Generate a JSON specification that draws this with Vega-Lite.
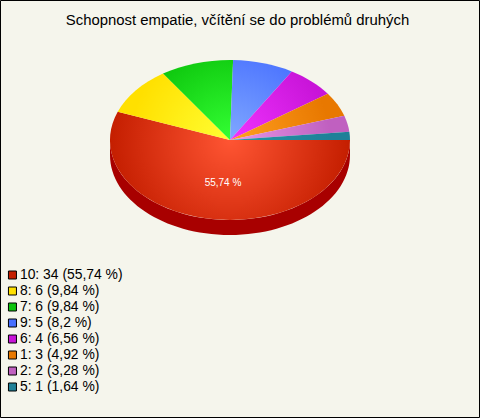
{
"$schema":"https://vega.github.io/schema/vega-lite/v6.json",
"width":479,"height":417,
"autosize":"none",
"padding":{"left":0,"top":0,"right":1,"bottom":1},
"background":"#F5F5EC",
"config":{"view":{"stroke":"#000000","strokeWidth":1},"font":"Liberation Sans"},
"title":{"text":"Schopnost empatie, včítění se do problémů druhých","font":"Liberation Sans","fontSize":14.9,"fontWeight":"normal","color":"#000000","anchor":"middle","dx":-2,"dy":32},
"data":{"values":[
{"label":"10: 34 (55,74 %)","kod":"10","hodnota":34,"procent":"55,74 %"},
{"label":"8: 6 (9,84 %)","kod":"8","hodnota":6,"procent":"9,84 %"},
{"label":"7: 6 (9,84 %)","kod":"7","hodnota":6,"procent":"9,84 %"},
{"label":"9: 5 (8,2 %)","kod":"9","hodnota":5,"procent":"8,2 %"},
{"label":"6: 4 (6,56 %)","kod":"6","hodnota":4,"procent":"6,56 %"},
{"label":"1: 3 (4,92 %)","kod":"1","hodnota":3,"procent":"4,92 %"},
{"label":"2: 2 (3,28 %)","kod":"2","hodnota":2,"procent":"3,28 %"},
{"label":"5: 1 (1,64 %)","kod":"5","hodnota":1,"procent":"1,64 %"}
]},
"encoding":{
"x":{"datum":"pie","type":"nominal","scale":{"range":[0,460]},"axis":null},
"y":{"datum":"pie","type":"nominal","scale":{"range":[0,280]},"axis":null}
},
"layer":[
{"mark":{"type":"point","filled":true,"opacity":1,"fill":"#A80000","stroke":null,"size":4,"shape":"M120 0 L120 15 A120 80 0 0 1 -120 15 L-120 0 A120 80 0 0 0 120 0 Z"},
 "transform":[{"filter":"datum.kod == '10'"}]},
{"mark":{"type":"point","filled":true,"opacity":1,"size":0,"stroke":null},
 "encoding":{
  "color":{"field":"label","type":"nominal","sort":null,
   "scale":{"range":["#C41E00","#FFE000","#0CC40C","#4870FF","#C814D8","#E87800","#C060C0","#1E8098"]},
   "legend":{"title":null,"orient":"none","legendX":5.5,"legendY":267,"symbolType":"square","symbolSize":64,"symbolStrokeColor":"#000000","symbolStrokeWidth":1,"labelFont":"Liberation Sans","labelFontSize":13.9,"labelColor":"#000000","clipHeight":16,"rowPadding":0,"labelOffset":0.5,"labelLimit":200,"symbolOpacity":1}}
 }},
{"transform":[{"filter":"datum.kod == '10'"}],"mark":{"type":"point","filled":true,"opacity":1,"stroke":null,"size":4,"shape":"M0 0 L120 0 A120 80 0 1 1 -112.29 -28.22 Z",
 "fill":{"gradient":"radial","x1":0.5,"y1":0.392,"r1":0,"x2":0.5,"y2":0.392,"r2":0.5,"stops":[{"offset":0,"color":"#FF5533"},{"offset":1,"color":"#C41E00"}]}}},
{"transform":[{"filter":"datum.kod == '8'"}],"mark":{"type":"point","filled":true,"opacity":1,"stroke":null,"size":4,"shape":"M0 0 L-112.29 -28.22 A120 80 0 0 1 -66.97 -66.38 Z",
 "fill":{"gradient":"radial","x1":1,"y1":0.796,"r1":0,"x2":1,"y2":0.796,"r2":0.891,"stops":[{"offset":0,"color":"#FFFF33"},{"offset":1,"color":"#FFE000"}]}}},
{"transform":[{"filter":"datum.kod == '7'"}],"mark":{"type":"point","filled":true,"opacity":1,"stroke":null,"size":4,"shape":"M0 0 L-66.97 -66.38 A120 80 0 0 1 3.09 -79.97 Z",
 "fill":{"gradient":"radial","x1":0.899,"y1":1,"r1":0,"x2":0.899,"y2":1,"r2":1.25,"stops":[{"offset":0,"color":"#33FF33"},{"offset":1,"color":"#0CC40C"}]}}},
{"transform":[{"filter":"datum.kod == '9'"}],"mark":{"type":"point","filled":true,"opacity":1,"stroke":null,"size":4,"shape":"M0 0 L3.09 -79.97 A120 80 0 0 1 61.76 -68.59 Z",
 "fill":{"gradient":"radial","x1":0.114,"y1":1,"r1":0,"x2":0.114,"y2":1,"r2":1.25,"stops":[{"offset":0,"color":"#80A8FF"},{"offset":1,"color":"#4870FF"}]}}},
{"transform":[{"filter":"datum.kod == '6'"}],"mark":{"type":"point","filled":true,"opacity":1,"stroke":null,"size":4,"shape":"M0 0 L61.76 -68.59 A120 80 0 0 1 97.81 -46.34 Z",
 "fill":{"gradient":"radial","x1":0,"y1":0.851,"r1":0,"x2":0,"y2":0.851,"r2":1.022,"stops":[{"offset":0,"color":"#F033FF"},{"offset":1,"color":"#C814D8"}]}}},
{"transform":[{"filter":"datum.kod == '1'"}],"mark":{"type":"point","filled":true,"opacity":1,"stroke":null,"size":4,"shape":"M0 0 L97.81 -46.34 A120 80 0 0 1 114.31 -24.33 Z",
 "fill":{"gradient":"radial","x1":0,"y1":0.703,"r1":0,"x2":0,"y2":0.703,"r2":0.875,"stops":[{"offset":0,"color":"#FFA020"},{"offset":1,"color":"#E87800"}]}}},
{"transform":[{"filter":"datum.kod == '2'"}],"mark":{"type":"point","filled":true,"opacity":1,"stroke":null,"size":4,"shape":"M0 0 L114.31 -24.33 A120 80 0 0 1 119.36 -8.22 Z",
 "fill":{"gradient":"radial","x1":0,"y1":0.602,"r1":0,"x2":0,"y2":0.602,"r2":0.838,"stops":[{"offset":0,"color":"#E898E8"},{"offset":1,"color":"#C060C0"}]}}},
{"transform":[{"filter":"datum.kod == '5'"}],"mark":{"type":"point","filled":true,"opacity":1,"stroke":null,"size":4,"shape":"M0 0 L119.36 -8.22 A120 80 0 0 1 120 0 Z",
 "fill":{"gradient":"radial","x1":0,"y1":0.534,"r1":0,"x2":0,"y2":0.534,"r2":0.833,"stops":[{"offset":0,"color":"#2898A8"},{"offset":1,"color":"#1E8098"}]}}},
{"mark":{"type":"text","font":"Liberation Sans","fontSize":10,"color":"#FFFFFF","dx":-7,"dy":43},
 "transform":[{"filter":"datum.kod == '10'"}],
 "encoding":{"text":{"field":"procent"}}}
]
}
